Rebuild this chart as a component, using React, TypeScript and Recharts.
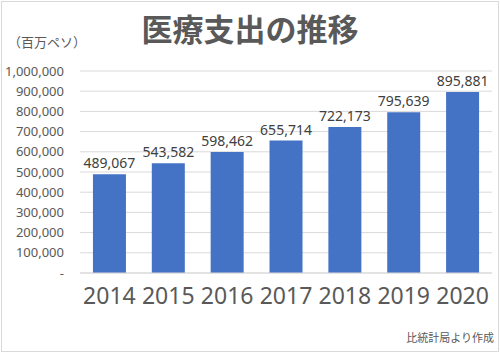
import { BarChart, Bar, XAxis, YAxis, CartesianGrid, LabelList } from 'recharts';

const years = ['2014', '2015', '2016', '2017', '2018', '2019', '2020'];
const spending = [489067, 543582, 598462, 655714, 722173, 795639, 895881];
const yTicks = [0, 100000, 200000, 300000, 400000, 500000, 600000, 700000, 800000, 900000, 1000000];

const data = years.map((year, i) => ({ year, value: spending[i] }));

const fmt = (v: number) => (v === 0 ? '-' : v.toLocaleString('en-US'));

export default function App() {
  return (
    <div style={{ position: 'absolute', left: 0, top: 0, width: 500, height: 353, background: '#fff', fontFamily: '"Noto Sans CJK JP", "Noto Sans", sans-serif' }}>
      <div style={{ position: 'absolute', left: 1, top: 1, width: 496, height: 349, border: '1px solid #d9d9d9' }} />
      <div style={{ position: 'absolute', left: 0, top: 8, width: 500, textAlign: 'center', fontSize: 31, fontWeight: 'bold', color: '#595959', lineHeight: '40px' }}>
        医療支出の推移
      </div>
      <div style={{ position: 'absolute', left: 8, top: 33, fontSize: 13, color: '#595959', lineHeight: '18px' }}>
        （百万ペソ）
      </div>
      <div style={{ position: 'absolute', right: 6, top: 329, fontSize: 11, color: '#595959', lineHeight: '16px' }}>
        比統計局より作成
      </div>
      <BarChart width={500} height={353} data={data} margin={{ top: 71, right: 8, bottom: 28, left: 0 }} barCategoryGap="22%">
        <CartesianGrid vertical={false} stroke="#d9d9d9" />
        <XAxis
          dataKey="year"
          height={52}
          interval={0}
          tickLine={false}
          axisLine={{ stroke: '#d9d9d9' }}
          tickMargin={9}
          tick={{ fontSize: 23, fill: '#595959', fontFamily: '"Noto Sans", sans-serif' }}
        />
        <YAxis
          width={80}
          domain={[0, 1000000]}
          ticks={yTicks}
          interval={0}
          tickFormatter={fmt}
          axisLine={false}
          tickLine={false}
          tickMargin={10}
          tick={{ fontSize: 13, fill: '#595959', fontFamily: '"Noto Sans", sans-serif' }}
        />
        <Bar dataKey="value" fill="#4472c4" isAnimationActive={false}>
          <LabelList dataKey="value" position="top" offset={6} formatter={(v: number) => fmt(v)} style={{ fontSize: 14, fill: '#404040', fontFamily: '"Noto Sans", sans-serif' }} />
        </Bar>
      </BarChart>
    </div>
  );
}
